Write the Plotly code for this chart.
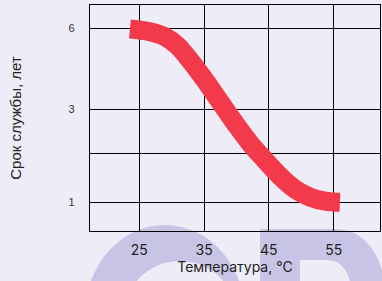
import plotly.graph_objects as go

# ---- data ----
TEMPERATURE_C = [23.56, 26.65, 28.97, 30.82, 32.82, 35.14, 37.45, 39.77, 42.08, 44.40, 46.71, 49.03, 51.34, 53.66, 55.97]
# service life, expressed on the chart's (non-uniform) life scale
LIFE_SCALE = [89.35, 88.16, 85.95, 82.19, 75.56, 66.73, 57.22, 47.72, 38.88, 31.37, 24.30, 18.56, 15.02, 13.26, 12.69]

X_TICKS = [25, 35, 45, 55]
Y_TICK_POS = [12.7, 34.3, 53.8, 89.6]
Y_TICK_TEXT = ["1", "", "3", "6"]

BG = "#EEEDF7"
MARK = "#C8C4E5"
RED = "#F23A4A"

W, H = 382, 281
ML, MR, MT, MB = 90, 2, 5, 50
PW, PH = W - ML - MR, H - MT - MB


def px(x):
    return (x - ML) / PW


def py(y):
    return (H - MB - y) / PH


def path(cmds):
    out = []
    for c in cmds:
        if isinstance(c, str):
            out.append(c)
        else:
            out.append(f"{px(c[0]):.4f},{py(c[1]):.4f}")
    return " ".join(out)


fig = go.Figure()
fig.add_trace(go.Scatter(
    x=TEMPERATURE_C, y=LIFE_SCALE, mode="lines",
    line=dict(color=RED, width=19, shape="spline", smoothing=1.0),
    hoverinfo="skip", showlegend=False,
))

shapes = [
    # decorative watermark letters
    dict(type="circle", xref="paper", yref="paper", layer="below",
         x0=px(85), x1=px(245), y0=py(225), y1=py(405),
         fillcolor=MARK, line=dict(width=0)),
    dict(type="circle", xref="paper", yref="paper", layer="below",
         x0=px(122), x1=px(238), y0=py(261), y1=py(381),
         fillcolor=BG, line=dict(width=0)),
    dict(type="path", xref="paper", yref="paper", layer="below",
         path=path(["M", (260, 229), "L", (335, 229), "C", (362, 229), (380, 250), (385, 285),
                    "L", (385, 295), "L", (260, 295), "Z"]),
         fillcolor=MARK, line=dict(width=0)),
    dict(type="path", xref="paper", yref="paper", layer="below",
         path=path(["M", (300, 260), "L", (327, 260), "C", (340, 260), (348, 270), (351, 285),
                    "L", (351, 295), "L", (300, 295), "Z"]),
         fillcolor=BG, line=dict(width=0)),
]

fig.update_layout(
    width=W, height=H,
    margin=dict(l=ML, r=MR, t=MT, b=MB),
    paper_bgcolor=BG, plot_bgcolor="rgba(0,0,0,0)",
    shapes=shapes,
    xaxis=dict(
        range=[17.4, 62.15], tickvals=X_TICKS, ticks="",
        showgrid=True, gridcolor="#000", gridwidth=1.2,
        showline=True, linecolor="#000", linewidth=1.3, mirror=True,
        zeroline=False, ticklabelstandoff=6,
        tickfont=dict(family="Inter", size=14, color="#222"),
        title=dict(text="Температура, °C", standoff=5,
                   font=dict(family="Inter", size=14, color="#222")),
    ),
    yaxis=dict(
        range=[0, 100], tickvals=Y_TICK_POS, ticktext=Y_TICK_TEXT, ticks="",
        showgrid=True, gridcolor="#000", gridwidth=1.2,
        showline=True, linecolor="#000", linewidth=1.3, mirror=True,
        zeroline=False, ticklabelstandoff=12,
        tickfont=dict(family="Liberation Sans", size=11, color="#333"),
        title=dict(text="Срок службы, лет", standoff=43,
                   font=dict(family="Liberation Sans", size=15, color="#222")),
    ),
)

fig.write_html("out.html", config={"displayModeBar": False},
               post_script="document.body.style.margin='0';")
